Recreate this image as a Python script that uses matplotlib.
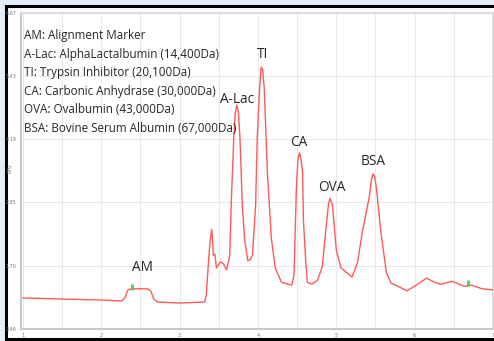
import matplotlib
matplotlib.use("Agg")
import matplotlib.pyplot as plt
import matplotlib.patches as patches

# trace (time, RFU)
time = [1.00, 1.47, 1.98, 2.26, 2.30, 2.34, 2.39, 2.59, 2.63, 2.67, 2.72, 3.00,
        3.32, 3.34, 3.37, 3.39, 3.41, 3.42, 3.43, 3.45, 3.47, 3.52, 3.56, 3.60,
        3.64, 3.66, 3.69, 3.71, 3.73, 3.75, 3.77, 3.80, 3.83, 3.87, 3.90, 3.93,
        3.97, 3.99, 4.02, 4.04, 4.06, 4.08, 4.12, 4.17, 4.22, 4.30, 4.43, 4.46,
        4.49, 4.51, 4.53, 4.55, 4.57, 4.58, 4.61, 4.63, 4.69, 4.76, 4.82, 4.87,
        4.90, 4.92, 4.95, 5.00, 5.06, 5.14, 5.20, 5.27, 5.33, 5.42, 5.45, 5.47,
        5.49, 5.51, 5.57, 5.64, 5.70, 5.80, 5.90, 6.02, 6.15, 6.25, 6.34, 6.48,
        6.63, 6.73, 6.86, 6.99]
rfu = [1.07, 1.05, 1.03, 1.01, 1.07, 1.23, 1.25, 1.25, 1.21, 1.05, 0.99, 0.97,
       0.99, 1.13, 1.82, 2.21, 2.42, 2.21, 1.91, 1.93, 1.66, 1.78, 1.74, 1.62,
       1.91, 2.99, 4.17, 4.70, 4.86, 4.72, 4.21, 2.90, 2.21, 1.80, 1.82, 1.91,
       2.90, 4.21, 5.16, 5.61, 5.55, 5.19, 3.54, 2.25, 1.66, 1.38, 1.32, 1.52,
       3.23, 3.80, 3.92, 3.80, 3.54, 2.60, 1.78, 1.38, 1.34, 1.42, 1.68, 2.46,
       2.92, 3.03, 2.90, 2.01, 1.66, 1.56, 1.48, 1.76, 2.35, 3.05, 3.42, 3.51,
       3.45, 3.25, 2.35, 1.56, 1.36, 1.29, 1.21, 1.32, 1.46, 1.38, 1.34, 1.40,
       1.30, 1.32, 1.25, 1.23]

marker_t = [2.39, 6.68]
marker_v = [1.29, 1.36]

peak_names = ["AM", "A-Lac", "TI", "CA", "OVA", "BSA"]
peak_t = [2.52, 3.73, 4.06, 4.52, 4.94, 5.47]
peak_v = [1.66, 4.97, 5.86, 4.13, 3.25, 3.76]

legend_lines = [
    "AM: Alignment Marker",
    "A-Lac: AlphaLactalbumin (14,400Da)",
    "TI: Trypsin Inhibitor (20,100Da)",
    "CA: Carbonic Anhydrase (30,000Da)",
    "OVA: Ovalbumin (43,000Da)",
    "BSA: Bovine Serum Albumin (67,000Da)",
]

y_ticks = [0.46, 1.70, 2.95, 4.19, 5.43, 6.67]
x_ticks = [1, 2, 3, 4, 5, 6, 7]

W, H = 494, 341
fig = plt.figure(figsize=(W / 100, H / 100), dpi=100)
fig.patch.set_facecolor("#e3eefa")

# screenshot frame
frame = patches.Rectangle((6 / W, 1 - 339 / H), 1.0, (339 - 5.5) / H,
                          transform=fig.transFigure, facecolor="white",
                          edgecolor="black", linewidth=2.2, zorder=-5)
fig.add_artist(frame)

ax = fig.add_axes([21 / W, 1 - 329 / H, (493 - 21) / W, (329 - 13) / H])
ax.set_facecolor("white")

ax.plot(time, rfu, color="#ff5a5a", lw=1.0, zorder=3)
ax.plot(marker_t, marker_v, ls="none", marker="|", ms=4, mew=2,
        color="#55cc55", zorder=4)

for name, t, v in zip(peak_names, peak_t, peak_v):
    ax.text(t, v, name, ha="center", va="center", fontsize=9.8,
            family="Open Sans", color="#262626")

for i, line in enumerate(legend_lines):
    fig.text(24 / W, 1 - (36 + 18.4 * i) / H, line, ha="left", va="center",
             fontsize=8.4, family="Open Sans", color="#262626")

ax.set_xlim(0.975, 6.99)
ax.set_ylim(0.46, 6.67)
ax.set_xticks(x_ticks)
ax.set_xticks([1.5, 2.5, 3.5, 4.5, 5.5, 6.5], minor=True)
ax.set_yticks(y_ticks)
ax.set_yticklabels([f"{v:.2f}" for v in y_ticks])
ax.tick_params(axis="both", which="both", length=0, labelsize=3.5,
               labelcolor="#777777", pad=3)
ax.grid(True, which="both", color="#e8e8e8", lw=0.7)
ax.set_axisbelow(True)
ax.set_ylabel("RFU", fontsize=3.5, color="#777777")
ax.yaxis.set_label_coords(-0.017, 0.51)

for side in ["left", "bottom"]:
    ax.spines[side].set_color("#c8c8c8")
    ax.spines[side].set_linewidth(1.5)
for side in ["top", "right"]:
    ax.spines[side].set_color("#dddddd")
    ax.spines[side].set_linewidth(1.5)

fig.savefig("out.png", dpi=100, facecolor=fig.get_facecolor())
